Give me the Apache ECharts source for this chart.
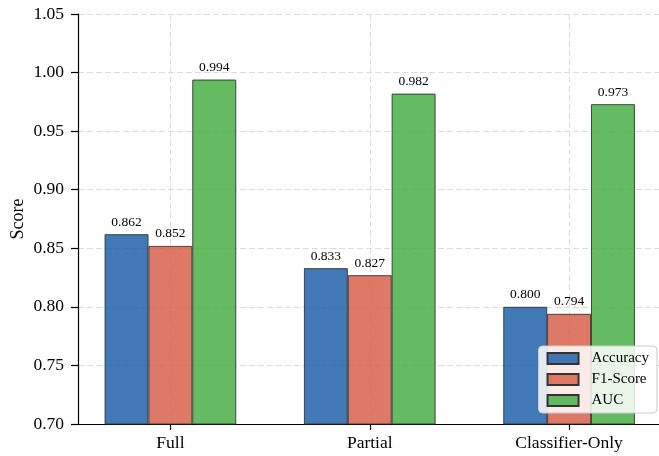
<!DOCTYPE html>
<html>
<head>
<meta charset="utf-8">
<script src="https://cdn.jsdelivr.net/npm/echarts@6/dist/echarts.min.js"></script>
<style>
  html, body { margin: 0; padding: 0; background: #fff; }
  #chart { width: 659px; height: 456px; }
</style>
</head>
<body>
<div id="chart"></div>
<script>
// Model variants on the x axis
const categories = ['Full', 'Partial', 'Classifier-Only'];
const categoryPos = [0, 1, 2];

// Metric scores per variant
const accuracy = [0.862, 0.833, 0.800];
const f1Score = [0.852, 0.827, 0.794];
const auc = [0.994, 0.982, 0.973];

const seriesNames = ['Accuracy', 'F1-Score', 'AUC'];

// y axis ticks
const yTicks = [0.70, 0.75, 0.80, 0.85, 0.90, 0.95, 1.00, 1.05];

const FONT = '"Liberation Serif", "Times New Roman", serif';
const colors = ['rgba(37,102,171,0.88)', 'rgba(216,102,81,0.88)', 'rgba(79,178,76,0.88)'];

function pairs(values) {
  return categoryPos.map((x, i) => [x, values[i]]);
}

function barSeries(name, values, color) {
  return {
    name: name,
    type: 'bar',
    data: pairs(values),
    barWidth: '22%',
    barGap: '0%',
    itemStyle: { color: color, borderColor: '#333', borderWidth: 0.9 },
    label: {
      show: true,
      position: 'top',
      distance: 5,
      fontFamily: FONT,
      fontSize: 13.5,
      color: '#000',
      formatter: p => p.value[1].toFixed(3)
    }
  };
}

const chart = echarts.init(document.getElementById('chart'), null, { renderer: 'canvas' });

chart.setOption({
  animation: false,
  backgroundColor: '#fff',
  grid: { left: 78, top: 14, width: 583.5, height: 410, containLabel: false, outerBoundsMode: 'none' },
  xAxis: {
    type: 'value',
    min: -0.4635,
    max: 2.4635,
    axisLine: { show: true, onZero: false, lineStyle: { color: '#000', width: 1.2 } },
    axisTick: { show: true, length: 6, customValues: categoryPos, lineStyle: { color: '#000', width: 1.2 } },
    axisLabel: {
      customValues: categoryPos,
      formatter: v => categories[Math.round(v)],
      fontFamily: FONT, fontSize: 17.5, color: '#000', margin: 10
    },
    splitLine: { show: true, lineStyle: { color: '#dcdcdc', type: [6, 3], width: 1 } }
  },
  yAxis: {
    type: 'value',
    min: yTicks[0],
    max: yTicks[yTicks.length - 1],
    interval: 0.05,
    name: 'Score',
    nameLocation: 'middle',
    nameGap: 51,
    nameMoveOverlap: false,
    nameTextStyle: { fontFamily: FONT, fontSize: 18, color: '#000' },
    axisLine: { show: true, onZero: false, lineStyle: { color: '#000', width: 1.2 } },
    axisTick: { show: true, length: 7, lineStyle: { color: '#000', width: 1.2 } },
    axisLabel: {
      fontFamily: FONT, fontSize: 17.5, color: '#000', margin: 14,
      formatter: v => v.toFixed(2)
    },
    splitLine: { show: true, lineStyle: { color: '#dcdcdc', type: [6, 3], width: 1 } }
  },
  legend: {
    orient: 'vertical',
    right: 2,
    bottom: 43,
    data: seriesNames,
    icon: 'rect',
    itemWidth: 31,
    itemHeight: 11,
    itemGap: 6,
    padding: [5, 8, 5, 8],
    backgroundColor: 'rgba(255,255,255,0.85)',
    borderColor: '#cccccc',
    borderWidth: 1,
    borderRadius: 4,
    textStyle: { fontFamily: FONT, fontSize: 15, color: '#000', lineHeight: 15, padding: [0, 0, 0, 8] }
  },
  series: [
    barSeries(seriesNames[0], accuracy, colors[0]),
    barSeries(seriesNames[1], f1Score, colors[1]),
    barSeries(seriesNames[2], auc, colors[2])
  ]
});
</script>
</body>
</html>
